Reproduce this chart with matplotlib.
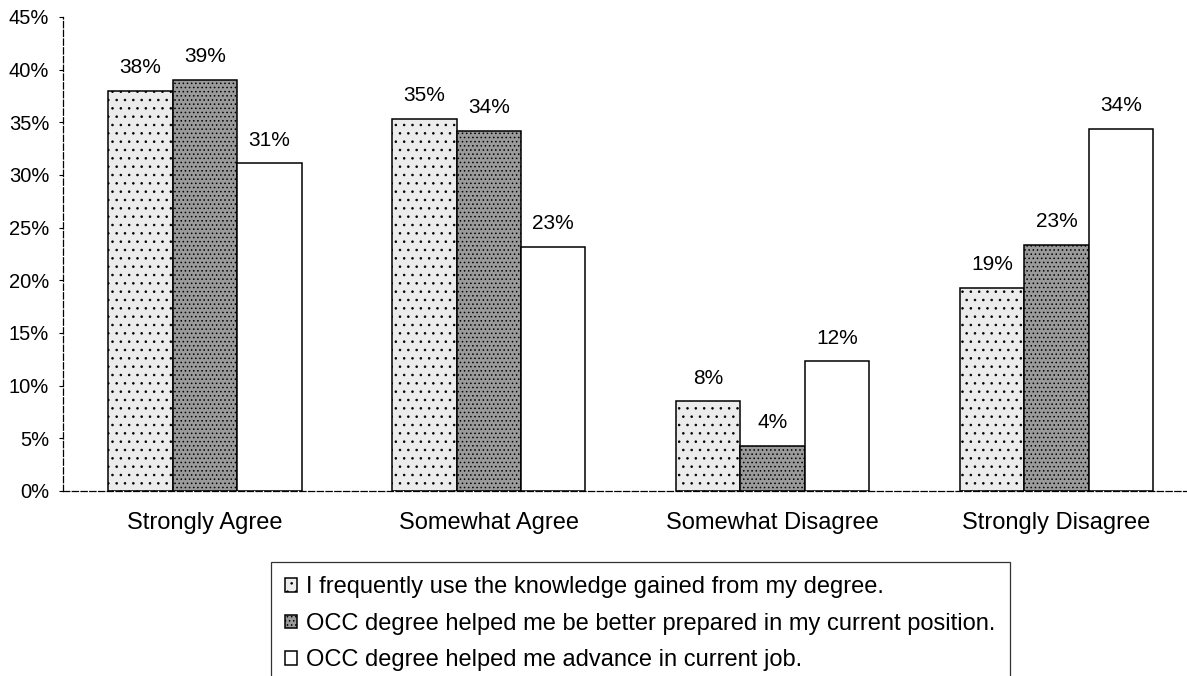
import numpy as np
import matplotlib
matplotlib.use("Agg")
import matplotlib.pyplot as plt

plt.rcParams['font.family'] = ['Liberation Sans', 'DejaVu Sans']
plt.rcParams['hatch.linewidth'] = 0.6

# 数据
categories = ["Strongly Agree", "Somewhat Agree", "Somewhat Disagree", "Strongly Disagree"]
series_names = [
    "I frequently use the knowledge gained from my degree.",
    "OCC degree helped me be better prepared in my current position.",
    "OCC degree helped me advance in current job.",
]
use_knowledge = [38.0, 35.3, 8.5, 19.3]
better_prepared = [39.0, 34.2, 4.3, 23.4]
advance_job = [31.1, 23.2, 12.3, 34.4]
yticks = [0, 5, 10, 15, 20, 25, 30, 35, 40, 45]

fig = plt.figure(figsize=(11.87, 6.76), dpi=100)
ax = fig.add_axes([63 / 1187, 1 - 491 / 676, 1 - 63 / 1187, (491 - 17) / 676])

x = np.arange(len(categories))
w = 0.227
styles = [
    dict(facecolor="#ececec", hatch="..", edgecolor="black"),
    dict(facecolor="#9a9a9a", hatch="....", edgecolor="black"),
    dict(facecolor="white", hatch=None, edgecolor="black"),
]
all_series = [use_knowledge, better_prepared, advance_job]

for i, (vals, st, name) in enumerate(zip(all_series, styles, series_names)):
    bars = ax.bar(x + (i - 1) * w, vals, width=w, label=name, linewidth=1.1, **st)
    # 柱顶标注
    for b, v in zip(bars, vals):
        ax.annotate(f"{v:.0f}%", (b.get_x() + b.get_width() / 2, v),
                    xytext=(0, 10), textcoords="offset points",
                    ha="center", va="bottom", fontsize=15)

ax.set_xlim(-0.5, 3.46)
ax.set_ylim(0, 45)
ax.set_yticks(yticks)
ax.set_yticklabels([f"{t}%" for t in yticks], fontsize=14.5)
ax.set_xticks(x)
ax.set_xticklabels(categories, fontsize=17)
ax.tick_params(axis="x", length=0, pad=15)
ax.tick_params(axis="y", length=3, pad=7)

for s in ["top", "right"]:
    ax.spines[s].set_visible(False)
for s in ["left", "bottom"]:
    ax.spines[s].set_linestyle((0, (5, 2)))
    ax.spines[s].set_linewidth(0.9)

# 图例（底边超出画面）
leg = fig.legend(loc="upper left", bbox_to_anchor=(271 / 1187, 1 - 562 / 676),
                 fontsize=17, frameon=True, fancybox=False, edgecolor="black",
                 handlelength=0.5, handleheight=0.5, handletextpad=0.4,
                 labelspacing=0.62, borderpad=0.6, borderaxespad=0)
leg.get_frame().set_linewidth(0.9)

fig.savefig("out.png", dpi=100, facecolor="white")
